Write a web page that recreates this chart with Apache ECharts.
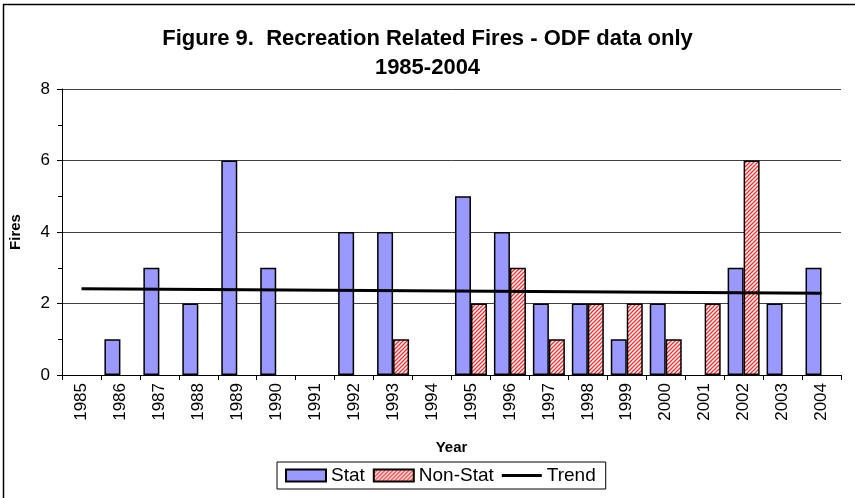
<!DOCTYPE html>
<html>
<head>
<meta charset="utf-8">
<script src="https://cdn.jsdelivr.net/npm/echarts@6/dist/echarts.min.js"></script>
<style>
  html, body { margin: 0; padding: 0; background: #fff; }
  #chart { width: 855px; height: 498px; }
</style>
</head>
<body>
<div id="chart"></div>
<script>
// data
var years = ['1985', '1986', '1987', '1988', '1989', '1990', '1991', '1992', '1993', '1994',
  '1995', '1996', '1997', '1998', '1999', '2000', '2001', '2002', '2003', '2004']
var statFires = [0, 1, 3, 2, 6, 3, 0, 4, 4, 0, 5, 4, 2, 2, 1, 2, 0, 3, 2, 3]
var nonStatFires = [0, 0, 0, 0, 0, 0, 0, 0, 1, 0, 2, 3, 1, 2, 2, 1, 2, 6, 0, 0]
// trend line end points (first and last year)
var trendStart = 2.41
var trendEnd = 2.29

// zero bars are not drawn in the original
function hideZero (arr) {
  return arr.map(function (v) { return v === 0 ? '-' : v })
}

// hatch pattern for the Non-Stat bars
function makeHatch () {
  var c = document.createElement('canvas')
  c.width = 4
  c.height = 4
  var ctx = c.getContext('2d')
  ctx.fillStyle = '#ffffff'
  ctx.fillRect(0, 0, 4, 4)
  ctx.strokeStyle = '#ff2a2a'
  ctx.lineWidth = 1.3
  ctx.beginPath()
  ctx.moveTo(0, 4); ctx.lineTo(4, 0)
  ctx.moveTo(-1, 1); ctx.lineTo(1, -1)
  ctx.moveTo(3, 5); ctx.lineTo(5, 3)
  ctx.stroke()
  return c
}
var hatch = { image: makeHatch(), repeat: 'repeat' }

var font = 'Arial, "Liberation Sans", sans-serif'
var myChart = echarts.init(document.getElementById('chart'))
myChart.setOption({
  animation: false,
  title: {
    text: 'Figure 9.  Recreation Related Fires - ODF data only\n1985-2004',
    left: 'center',
    top: 19,
    textStyle: {
      fontFamily: font,
      fontSize: 22,
      fontWeight: 'bold',
      color: '#000',
      lineHeight: 29
    }
  },
  legend: {
    bottom: 9,
    left: 277,
    itemGap: 8,
    itemWidth: 40,
    itemHeight: 12,
    padding: [4, 10, 4, 8],
    borderColor: '#000',
    borderWidth: 1,
    borderRadius: 0,
    textStyle: { fontFamily: font, fontSize: 19, color: '#000', padding: [0, 0, 0, 0] },
    data: [
      { name: 'Stat', icon: 'rect' },
      { name: 'Non-Stat', icon: 'rect' },
      { name: 'Trend', icon: 'path://M0,0 L40,0 L40,3 L0,3 Z', itemStyle: { color: '#000', borderWidth: 0 } }
    ]
  },
  grid: {
    left: 61,
    right: 14,
    top: 89,
    bottom: 123
  },
  xAxis: {
    type: 'category',
    data: years,
    name: 'Year',
    nameLocation: 'middle',
    nameGap: 65,
    nameTextStyle: { fontFamily: font, fontSize: 15, fontWeight: 'bold', color: '#000' },
    axisLine: { lineStyle: { color: '#000', width: 1 } },
    axisTick: { show: true, length: 5, lineStyle: { color: '#000' } },
    axisLabel: {
      rotate: 90,
      interval: 0,
      margin: 8,
      fontFamily: font,
      fontSize: 17,
      color: '#000'
    }
  },
  yAxis: {
    type: 'value',
    min: 0,
    max: 8,
    interval: 2,
    name: 'Fires',
    nameLocation: 'middle',
    nameGap: 39,
    nameTextStyle: { fontFamily: font, fontSize: 15, fontWeight: 'bold', color: '#000' },
    axisLine: { show: true, lineStyle: { color: '#000', width: 1 } },
    axisTick: { show: true, length: 5, lineStyle: { color: '#000' } },
    minorTick: { show: true, splitNumber: 2, length: 4, lineStyle: { color: '#000' } },
    axisLabel: { fontFamily: font, fontSize: 17, color: '#000', margin: 12 },
    splitLine: { show: true, lineStyle: { color: '#000', width: 1, opacity: 0.75 } }
  },
  series: [
    {
      name: 'Stat',
      type: 'bar',
      data: hideZero(statFires),
      barWidth: 16,
      barGap: '0%',
      itemStyle: { color: '#9999ff', borderColor: '#000', borderWidth: 1.5 }
    },
    {
      name: 'Non-Stat',
      type: 'bar',
      data: hideZero(nonStatFires),
      barWidth: 16,
      itemStyle: { color: hatch, borderColor: '#000', borderWidth: 1.5 }
    },
    {
      name: 'Trend',
      type: 'line',
      data: [[0, trendStart], [years.length - 1, trendEnd]],
      symbol: 'none',
      lineStyle: { color: '#000', width: 3 },
      itemStyle: { color: '#000' },
      z: 5
    }
  ],
  graphic: [
    { type: 'line', shape: { x1: 3.5, y1: 4, x2: 3.5, y2: 498 }, style: { stroke: '#000', lineWidth: 1.5 } },
    { type: 'line', shape: { x1: 3, y1: 4.5, x2: 855, y2: 4.5 }, style: { stroke: '#000', lineWidth: 1.5 } }
  ]
})
</script>
</body>
</html>
